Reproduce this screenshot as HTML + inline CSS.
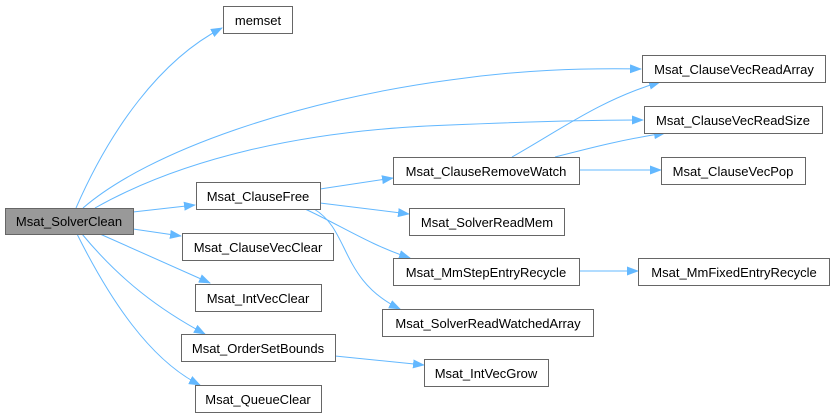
<!DOCTYPE html>
<html><head><style>body{margin:0;background:#fff}svg{display:block}</style></head><body>
<svg width="834" height="417" xmlns="http://www.w3.org/2000/svg" font-family="'Liberation Sans',Arial,sans-serif" font-size="13">
<defs><marker id="a" markerWidth="12" markerHeight="9" refX="11" refY="4.5" orient="auto" markerUnits="userSpaceOnUse"><path d="M0,0 L12,4.5 L0,9 z" fill="#63b8ff"/></marker></defs>
<g fill="none" stroke="#63b8ff" stroke-width="1" marker-end="url(#a)">
<path d="M76,208 C110,130 160,60 222,28"/>
<path d="M83,208 C150,150 300,100 450,80 C520,70 580,68 641,69"/>
<path d="M95,208 C180,160 300,130 450,125 C520,122 590,120 643,120"/>
<path d="M133,212 L195,205"/>
<path d="M133,229 L181,236"/>
<path d="M100,234 L210,283"/>
<path d="M82,234 C120,280 160,310 205,334"/>
<path d="M77,234 C110,300 150,360 200,385"/>
<path d="M320,189 L393,178"/>
<path d="M320,203 L409,214"/>
<path d="M305,209 C340,225 370,245 410,258"/>
<path d="M314,209 C350,230 340,280 400,309"/>
<path d="M512,157 C560,130 600,100 660,82"/>
<path d="M555,157 C590,148 620,140 665,133"/>
<path d="M579,170 L661,170"/>
<path d="M579,271 L638,271"/>
<path d="M335,356 L424,365"/>
</g>
<g stroke="#666" stroke-width="1" fill="#fff">
<rect x="5.5" y="208.5" width="128" height="26" fill="#999"/>
<rect x="223.5" y="6.5" width="69" height="27"/>
<rect x="642.5" y="55.5" width="183" height="27"/>
<rect x="644.5" y="106.5" width="178" height="27"/>
<rect x="196.5" y="182.5" width="124" height="27"/>
<rect x="393.5" y="157.5" width="186" height="27"/>
<rect x="661.5" y="157.5" width="144" height="27"/>
<rect x="409.5" y="208.5" width="155" height="27"/>
<rect x="182.5" y="233.5" width="151" height="27"/>
<rect x="393.5" y="258.5" width="186" height="27"/>
<rect x="638.5" y="258.5" width="191" height="27"/>
<rect x="195.5" y="284.5" width="126" height="27"/>
<rect x="382.5" y="309.5" width="211" height="27"/>
<rect x="181.5" y="334.5" width="154" height="27"/>
<rect x="424.5" y="359.5" width="124" height="27"/>
<rect x="195.5" y="385.5" width="126" height="27"/>
</g>
<g fill="#000" text-anchor="middle">
<text x="69" y="226">Msat_SolverClean</text>
<text x="258" y="25">memset</text>
<text x="734" y="74">Msat_ClauseVecReadArray</text>
<text x="733" y="125">Msat_ClauseVecReadSize</text>
<text x="258" y="201">Msat_ClauseFree</text>
<text x="486" y="176">Msat_ClauseRemoveWatch</text>
<text x="733" y="176">Msat_ClauseVecPop</text>
<text x="487" y="227">Msat_SolverReadMem</text>
<text x="258" y="252">Msat_ClauseVecClear</text>
<text x="486" y="277">Msat_MmStepEntryRecycle</text>
<text x="734" y="277">Msat_MmFixedEntryRecycle</text>
<text x="258" y="303">Msat_IntVecClear</text>
<text x="488" y="328">Msat_SolverReadWatchedArray</text>
<text x="258" y="353">Msat_OrderSetBounds</text>
<text x="486" y="378">Msat_IntVecGrow</text>
<text x="258" y="404">Msat_QueueClear</text>
</g>
</svg>
</body></html>
